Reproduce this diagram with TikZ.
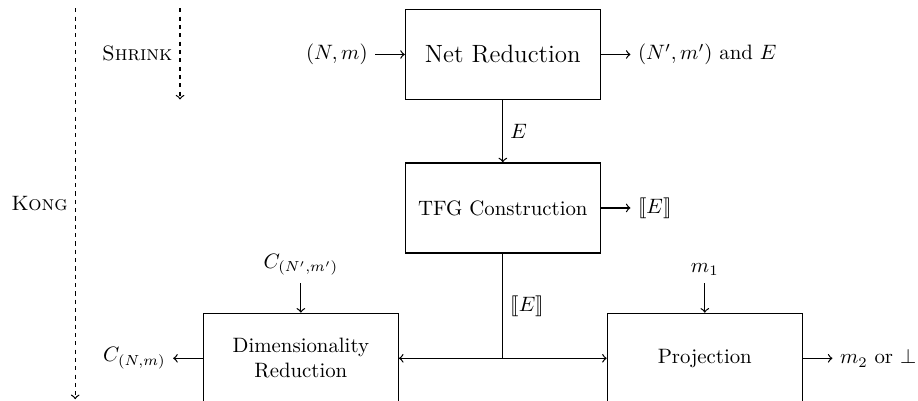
\documentclass[tikz,border=0pt]{standalone}
\usepackage{amssymb}
\usepackage{amsmath}
\usepackage{stmaryrd}
\usetikzlibrary{arrows}
\usetikzlibrary{positioning}

\begin{document}
\begin{tikzpicture}[node distance=1.05cm,>=to,semithick,stage/.style={draw,rectangle,minimum width=3.29cm,minimum height=1.52cm,align=center},phase/.style={dash pattern=on 2pt off 2pt,->}]
\useasboundingbox (0,0) rectangle (15.5,6.76);
  \node[stage,font=\large] (net) at (8.49,5.84) {Net Reduction};
  \node[stage,below=of net] (tfg) {TFG Construction};
  \node[stage] (dim) at (5.08,0.71) {Dimensionality\\Reduction};
  \node[stage] (proj) at (11.9,0.71) {Projection};
  \coordinate (split) at (tfg |- dim);
  \node[left=0.5cm of net] (netin) {$(N,m)$};
  \node[right=0.5cm of net] (netout) {$(N',m')$ and $E$};
  \node[right=0.5cm of tfg] (tfgout) {$\llbracket E\rrbracket$};
  \node[above=0.5cm of dim] (dimin) {$C_{(N',m')}$};
  \node[left=0.5cm of dim] (dimout) {$C_{(N,m)}$};
  \node[above=0.5cm of proj] (projin) {$m_1$};
  \node[right=0.5cm of proj] (projout) {$m_2$ or $\perp$};
\coordinate (shrinktop) at (3.04,6.62);
\coordinate (shrinkend) at (3.04,5.08);
\coordinate (kongtop) at (1.27,6.62);
\coordinate (kongend) at (1.27,0.02);
  \draw[->](netin)--(net);
  \draw[->](net)--(netout);
  \draw[->](net)--node[right]{$E$}(tfg);
  \draw[->](tfg)--(tfgout);
  \draw(tfg)--node[right]{$\llbracket E\rrbracket$}(split);
  \draw[->](split)--(dim);
  \draw[->](split)--(proj);
  \draw[->](dimin)--(dim);
  \draw[->](dim)--(dimout);
  \draw[->](projin)--(proj);
  \draw[->](proj)--(projout);
\draw[phase](shrinktop)--node[left]{\textsc{Shrink}}(shrinkend);
\draw[phase](kongtop)--node[left]{\textsc{Kong}}(kongend);
  \end{tikzpicture}
\end{document}
